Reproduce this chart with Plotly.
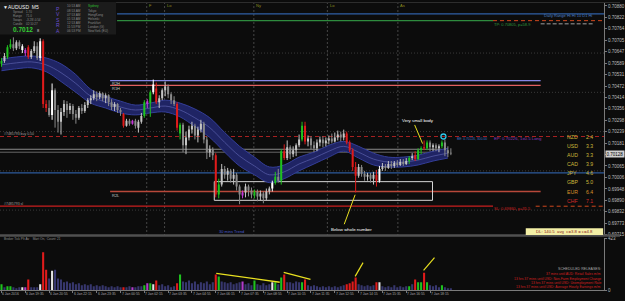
import plotly.graph_objects as go

W, H = 625, 301

# ---------------- data ----------------
opens = [0.70585,0.70600,0.70620,0.70670,0.70685,0.70665,0.70695,0.70675,0.70655,0.70670,
         0.70620,0.70650,0.70675,0.70615,0.70700,0.70380,0.70360,0.70325,0.70450,0.70350,
         0.70290,0.70340,0.70380,0.70350,0.70370,0.70330,0.70310,0.70360,0.70345,0.70375,
         0.70400,0.70410,0.70430,0.70415,0.70435,0.70410,0.70425,0.70390,0.70365,0.70380,
         0.70350,0.70330,0.70270,0.70295,0.70280,0.70295,0.70260,0.70290,0.70320,0.70380,
         0.70385,0.70440,0.70460,0.70390,0.70410,0.70450,0.70470,0.70430,0.70400,0.70380,
         0.70230,0.70275,0.70170,0.70210,0.70250,0.70270,0.70220,0.70250,0.70280,0.70200,
         0.70135,0.70150,0.70120,0.69920,0.69970,0.70050,0.70020,0.70040,0.70000,0.70020,
         0.69960,0.69915,0.69930,0.69960,0.69940,0.69915,0.69935,0.69910,0.69925,0.69900,
         0.69935,0.69950,0.69980,0.70010,0.69990,0.70140,0.70105,0.70160,0.70125,0.70145,
         0.70170,0.70200,0.70270,0.70190,0.70205,0.70170,0.70155,0.70185,0.70200,0.70180,
         0.70195,0.70205,0.70190,0.70210,0.70225,0.70210,0.70230,0.70185,0.70145,0.70060,
         0.70015,0.70060,0.70025,0.70010,0.70020,0.70000,0.70020,0.69990,0.70050,0.70065,
         0.70055,0.70075,0.70065,0.70080,0.70070,0.70085,0.70075,0.70090,0.70105,0.70120,
         0.70100,0.70145,0.70160,0.70155,0.70185,0.70160,0.70170,0.70155,0.70165,0.70185,
         0.70145,0.70130]
highs = [0.70615,0.70640,0.70680,0.70710,0.70720,0.70705,0.70705,0.70685,0.70665,0.70680,
         0.70660,0.70700,0.70695,0.70715,0.70710,0.70400,0.70400,0.70485,0.70460,0.70375,
         0.70360,0.70400,0.70395,0.70385,0.70380,0.70350,0.70370,0.70380,0.70390,0.70410,
         0.70425,0.70450,0.70445,0.70445,0.70440,0.70435,0.70430,0.70405,0.70390,0.70385,
         0.70360,0.70335,0.70305,0.70305,0.70300,0.70305,0.70300,0.70335,0.70400,0.70405,
         0.70450,0.70505,0.70490,0.70425,0.70460,0.70495,0.70480,0.70440,0.70420,0.70390,
         0.70285,0.70285,0.70240,0.70270,0.70290,0.70280,0.70265,0.70300,0.70290,0.70215,
         0.70170,0.70160,0.70130,0.70000,0.70075,0.70065,0.70055,0.70050,0.70050,0.70030,
         0.69970,0.69940,0.69975,0.69970,0.69955,0.69945,0.69945,0.69940,0.69935,0.69950,
         0.69960,0.69990,0.70035,0.70050,0.70150,0.70175,0.70195,0.70170,0.70165,0.70180,
         0.70225,0.70290,0.70290,0.70220,0.70215,0.70190,0.70200,0.70215,0.70215,0.70210,
         0.70220,0.70230,0.70235,0.70245,0.70240,0.70250,0.70240,0.70195,0.70155,0.70085,
         0.70075,0.70070,0.70040,0.70030,0.70030,0.70035,0.70045,0.70065,0.70080,0.70075,
         0.70090,0.70090,0.70090,0.70095,0.70100,0.70100,0.70105,0.70115,0.70130,0.70140,
         0.70155,0.70165,0.70195,0.70195,0.70195,0.70180,0.70180,0.70175,0.70195,0.70200,
         0.70165,0.70155]
lows = [0.70570,0.70590,0.70610,0.70660,0.70650,0.70655,0.70660,0.70640,0.70625,0.70610,
        0.70610,0.70640,0.70605,0.70600,0.70360,0.70340,0.70315,0.70300,0.70260,0.70235,
        0.70225,0.70320,0.70310,0.70330,0.70300,0.70280,0.70300,0.70330,0.70335,0.70360,
        0.70380,0.70400,0.70395,0.70405,0.70395,0.70385,0.70370,0.70350,0.70345,0.70335,
        0.70320,0.70260,0.70265,0.70270,0.70275,0.70255,0.70235,0.70280,0.70310,0.70360,
        0.70315,0.70430,0.70380,0.70360,0.70400,0.70420,0.70410,0.70380,0.70370,0.70245,
        0.70200,0.70135,0.70125,0.70195,0.70230,0.70200,0.70185,0.70235,0.70180,0.70100,
        0.70110,0.70095,0.69905,0.69900,0.69960,0.70000,0.69990,0.69980,0.69970,0.69940,
        0.69870,0.69900,0.69905,0.69910,0.69900,0.69900,0.69885,0.69890,0.69875,0.69890,
        0.69920,0.69935,0.69970,0.69980,0.69970,0.70095,0.70095,0.70100,0.70110,0.70115,
        0.70160,0.70190,0.70175,0.70165,0.70150,0.70135,0.70140,0.70165,0.70160,0.70165,
        0.70175,0.70180,0.70185,0.70195,0.70190,0.70195,0.70175,0.70135,0.70040,0.69930,
        0.70005,0.70010,0.69990,0.69990,0.69980,0.69970,0.69960,0.69980,0.70040,0.70040,
        0.70050,0.70050,0.70055,0.70060,0.70065,0.70065,0.70070,0.70075,0.70095,0.70090,
        0.70095,0.70125,0.70145,0.70145,0.70140,0.70140,0.70140,0.70135,0.70155,0.70115,
        0.70110,0.70120]
closes = [0.70600,0.70625,0.70670,0.70685,0.70665,0.70695,0.70675,0.70655,0.70640,0.70620,
          0.70650,0.70675,0.70615,0.70700,0.70380,0.70360,0.70325,0.70450,0.70350,0.70290,
          0.70340,0.70380,0.70350,0.70370,0.70330,0.70310,0.70360,0.70345,0.70375,0.70400,
          0.70410,0.70430,0.70415,0.70435,0.70410,0.70425,0.70390,0.70365,0.70380,0.70350,
          0.70340,0.70270,0.70295,0.70280,0.70295,0.70270,0.70290,0.70320,0.70390,0.70395,
          0.70440,0.70480,0.70390,0.70410,0.70450,0.70470,0.70430,0.70400,0.70380,0.70260,
          0.70275,0.70170,0.70210,0.70250,0.70270,0.70220,0.70250,0.70280,0.70200,0.70135,
          0.70150,0.70120,0.69920,0.69970,0.70050,0.70020,0.70040,0.70000,0.70020,0.69960,
          0.69920,0.69930,0.69960,0.69940,0.69920,0.69935,0.69910,0.69925,0.69900,0.69935,
          0.69950,0.69980,0.70010,0.69990,0.70140,0.70105,0.70160,0.70125,0.70145,0.70170,
          0.70200,0.70270,0.70190,0.70205,0.70170,0.70155,0.70185,0.70200,0.70180,0.70195,
          0.70205,0.70190,0.70210,0.70225,0.70210,0.70230,0.70185,0.70145,0.70060,0.70015,
          0.70060,0.70025,0.70010,0.70020,0.70000,0.70020,0.69990,0.70050,0.70065,0.70055,
          0.70075,0.70065,0.70080,0.70070,0.70085,0.70075,0.70090,0.70105,0.70115,0.70100,
          0.70145,0.70155,0.70155,0.70185,0.70160,0.70170,0.70155,0.70165,0.70185,0.70145,
          0.70130,0.70128]
# PVSRA class per bar: n normal up, m normal down, W white, G green climax, R red climax, P purple
bar_class = list("GnGGmnmWPR" "nnmWRRmWmm" "nnmnmmnmnn" "nnmnmnmmnm" "mRnmPmnnGP"
                 "GWRnnnmmmR" "Gmnnnmnnmm" "nmRGnmnmnm" "mPnmmGmnmn" "nWGmGRnmnn"
                 "nGRnmmnnmn" "nmnnmnRRRR" "nmmnmnRWnm" "nmnmnmnGnR" "GGRGmnmnGm" "mm")
volumes = [48,24,32,32,24,16,24,24,24,88,
           24,24,24,48,312,168,96,160,168,96,
           88,64,72,56,64,48,56,40,48,40,
           48,32,40,32,40,32,24,32,24,32,
           24,24,24,32,24,24,32,32,40,56,
           56,48,80,40,48,32,40,24,32,56,
           128,72,64,80,56,72,48,64,56,72,
           48,64,128,112,72,64,56,64,48,56,
           64,72,48,56,40,80,48,40,56,40,
           48,64,64,48,104,128,64,64,56,72,
           64,64,88,40,32,40,32,24,32,24,
           32,24,32,24,32,40,48,56,72,104,
           48,40,32,40,32,40,64,64,32,24,
           32,24,40,24,32,24,32,32,48,88,
           64,64,144,64,40,32,40,24,40,24,
           16,16]
ribbon_bars = [0,5,10,15,20,25,30,35,40,45,50,55,60,65,70,75,80,85,90,95,100,
               105,110,115,120,125,130,135,140,145,150]
ribbon_upper = [0.70610,0.70620,0.70625,0.70615,0.70585,0.70530,0.70455,0.70420,0.70395,0.70375,
                0.70385,0.70400,0.70385,0.70355,0.70310,0.70235,0.70165,0.70110,0.70060,0.70070,
                0.70110,0.70135,0.70170,0.70190,0.70165,0.70130,0.70110,0.70110,0.70120,0.70140,0.70155]
ribbon_mid = [0.70580,0.70590,0.70595,0.70580,0.70540,0.70485,0.70420,0.70390,0.70365,0.70350,
              0.70360,0.70370,0.70350,0.70310,0.70260,0.70185,0.70115,0.70065,0.70020,0.70035,
              0.70075,0.70105,0.70140,0.70165,0.70135,0.70100,0.70085,0.70085,0.70095,0.70115,0.70130]
ribbon_lower = [0.70550,0.70560,0.70565,0.70545,0.70495,0.70440,0.70385,0.70360,0.70335,0.70325,
                0.70335,0.70340,0.70315,0.70265,0.70210,0.70135,0.70065,0.70020,0.69980,0.70000,
                0.70040,0.70075,0.70110,0.70140,0.70105,0.70070,0.70060,0.70060,0.70070,0.70090,0.70105]
price_ticks = [0.70880,0.70822,0.70764,0.70705,0.70647,0.70589,0.70531,0.70472,0.70414,0.70356,
               0.70298,0.70239,0.70181,0.70123,0.70065,0.70006,0.69948,0.69890,0.69832,0.69773,0.69715]
time_labels = ["6 Jan 2016","6 Jan 19:35","6 Jan 20:55","6 Jan 22:15","6 Jan 23:35",
               "7 Jan 00:55","7 Jan 02:15","7 Jan 03:35","7 Jan 04:55","7 Jan 06:15",
               "7 Jan 07:35","7 Jan 08:55","7 Jan 10:15","7 Jan 11:35","7 Jan 12:55",
               "7 Jan 14:15","7 Jan 15:35","7 Jan 16:55","7 Jan 18:15"]
currencies = ["NZD","USD","AUD","CAD","JPY","GBP","EUR","CHF"]
currency_strength = [2.4,3.3,3.3,3.9,4.6,5.0,6.4,7.1]
session_bars = [48.8,54.8,84.8,109.5,133.2]
session_names = ["F","Lo","Ny","Lo","As"]
clock_times = ["10:53 AM","08:53 AM","07:53 AM","01:53 AM","12:53 AM","11:53 PM","06:53 PM"]
clock_cities = ["Sydney","Tokyo","HongKong","Helsinki","Frankfurt","London (G)","NewYork (EU)"]
releases = ["37 mins until AUD: Retail Sales m/m",
            "13 hrs 37 mins until USD: Non-Farm Employment Change",
            "13 hrs 37 mins until USD: Unemployment Rate",
            "13 hrs 37 mins until USD: Average Hourly Earnings m/m"]
vol_ticks = [0, 423]
current_price = 0.70128
level_daily_hi = 0.70840
level_tp = 0.70805
level_r2h = 0.70500
level_r1h = 0.70475
level_entry = 0.70215
level_gray1 = 0.70150
level_gray2 = 0.70135
level_whole = 0.70030
level_r2l = 0.69935
level_sl = 0.69860
box_top, box_bottom = 0.69985, 0.69890
grid_levels = [0.70640, 0.70440, 0.70240, 0.70040, 0.69840]
entry_marker_bar = 148.5

# ---------------- helpers ----------------
def px(x): return x / W
def py(y): return 1 - y / H

FONT = "Liberation Sans"
fig = go.Figure()

# moving-average ribbon
fig.add_trace(go.Scatter(x=ribbon_bars, y=ribbon_upper, mode='lines',
                         line=dict(color='#343e98', width=1, shape='spline'), hoverinfo='skip'))
fig.add_trace(go.Scatter(x=ribbon_bars, y=ribbon_lower, mode='lines', fill='tonexty',
                         fillcolor='#1f2464', line=dict(color='#343e98', width=1, shape='spline'),
                         hoverinfo='skip'))
fig.add_trace(go.Scatter(x=ribbon_bars, y=ribbon_mid, mode='lines',
                         line=dict(color='#5c62ad', width=0.7, shape='spline'), hoverinfo='skip'))

# candles (wick + body per colour class)
candle_colors = {'n': '#c4c4c4', 'm': '#8a8a8a', 'W': '#ffffff',
                 'G': '#1fc21f', 'R': '#e01b1b', 'P': '#c23ad6'}
for cls, col in candle_colors.items():
    wx, wy, bx, by = [], [], [], []
    for i, (o, h, l, c, k) in enumerate(zip(opens, highs, lows, closes, bar_class)):
        if k != cls:
            continue
        wx += [i, i, None]
        wy += [l, h, None]
        b0, b1 = min(o, c), max(o, c)
        if b1 - b0 < 0.00004:
            b1 = b0 + 0.00004
        bx += [i, i, None]
        by += [b0, b1, None]
    fig.add_trace(go.Scatter(x=wx, y=wy, mode='lines', line=dict(color=col, width=1),
                             hoverinfo='skip', connectgaps=False))
    fig.add_trace(go.Scatter(x=bx, y=by, mode='lines', line=dict(color=col, width=2),
                             hoverinfo='skip', connectgaps=False))

# entry marker
fig.add_trace(go.Scatter(x=[entry_marker_bar], y=[level_entry], mode='markers',
                         marker=dict(symbol='circle-open', size=5, color='#2ec8ea',
                                     line=dict(width=1.3)), hoverinfo='skip'))

# volume
vol_colors = {'n': '#37376e', 'm': '#37376e', 'W': '#e4e4e4',
              'G': '#1fc21f', 'R': '#e01b1b', 'P': '#b23ccc'}
fig.add_trace(go.Bar(x=list(range(len(volumes))), y=volumes, width=0.7,
                     marker=dict(color=[vol_colors[k] for k in bar_class], line=dict(width=0)),
                     xaxis='x2', yaxis='y2', hoverinfo='skip'))

# ---------------- shapes ----------------
shapes = []
def hline(level, x0, x1, color, width=1, dash='solid', layer='below'):
    shapes.append(dict(type='line', xref='paper', yref='y', x0=px(x0), x1=px(x1),
                       y0=level, y1=level, line=dict(color=color, width=width, dash=dash),
                       layer=layer))
def seg(x0, y0, x1, y1, color, width=1, dash='solid', layer='above'):
    shapes.append(dict(type='line', xref='paper', yref='paper', x0=px(x0), y0=py(y0),
                       x1=px(x1), y1=py(y1), line=dict(color=color, width=width, dash=dash),
                       layer=layer))
def rect(x0, y0, x1, y1, fill, layer='above'):
    shapes.append(dict(type='rect', xref='paper', yref='paper', x0=px(x0), y0=py(y0),
                       x1=px(x1), y1=py(y1), fillcolor=fill,
                       line=dict(width=0, color='rgba(0,0,0,0)'), layer=layer))

for g in grid_levels:
    hline(g, 0, 609, '#3a3a3a', 1, '1px,2px')
for b in session_bars:
    shapes.append(dict(type='line', xref='x', yref='paper', x0=b, x1=b, y0=py(0), y1=py(237),
                       line=dict(color='#474747', width=1, dash='2px,2px'), layer='below'))

hline(level_daily_hi, 118, 609, '#2f5fa5', 1.2)
hline(level_tp, 118, 497, '#2e8b3e', 1.2)
hline(level_tp, 497, 609, '#d0481e', 1, '4px,3px')
hline(level_r2h, 111, 545, '#8686e6', 1.2)
hline(level_r1h, 111, 545, '#e26060', 1.2)
hline(level_entry, 0, 609, '#a82222', 1, '4px,3px')
hline(level_gray1, 0, 445, '#8a8a8a', 1)
hline(level_gray2, 0, 445, '#666666', 1)
hline(level_whole, 0, 609, '#2c5a9c', 1.2)
hline(level_r2l, 111, 545, '#b8483a', 1.5)
hline(level_sl, 0, 497, '#c81e1e', 1.2)
hline(level_sl, 540, 609, '#d0481e', 1, '4px,3px')
shapes.append(dict(type='rect', xref='paper', yref='y', x0=px(216), x1=px(436),
                   y0=box_bottom, y1=box_top, line=dict(color='#d6d6d6', width=1), layer='below'))
seg(545, 22, 598, 22, '#6e6e6e', 1.5, '4px,2px')

# panel separator / frame
seg(0, 237.5, 625, 237.5, '#505050', 2.5)
seg(0, 0.5, 625, 0.5, '#2e2e2e', 1)

# info box
rect(0, 0, 117, 33, '#1b1b1b')

# annotation pointer lines
seg(418, 125, 426, 144, '#e8e020', 1)
seg(347, 226, 358, 196, '#e8e020', 1)
seg(218, 276, 282, 285, '#e8e020', 1.3)
seg(286, 275, 313, 282, '#e8e020', 1.3)
seg(358, 279, 366, 265, '#e8e020', 1.2)
seg(427, 273, 438, 260, '#e8e020', 1.2)

# DL box
rect(530, 230, 608, 237, '#f3efa6')

# ---------------- text ----------------
ann = []
def txt(s, x, y, color, size, anchor='left', bold=False, ref_x='paper', family=FONT):
    ann.append(dict(text=(f"<b>{s}</b>" if bold else s), x=(px(x) if ref_x == 'paper' else x),
                    y=py(y), xref=ref_x, yref='paper', xanchor=anchor, yanchor='middle',
                    showarrow=False, borderpad=0,
                    font=dict(size=size, color=color, family=family)))

txt("▼AUDUSD  M5", 2, 5, '#f0f0f0', 5)
for row, (lab, val) in enumerate([("Spread", "1.70"), ("Range", "71.0"),
                                  ("Swaps", "-3.28/-0.54"), ("Candle", "02:10:27")]):
    txt(lab, 12, 10.5 + 4 * row, '#8a8a8a', 3)
    txt(val, 25, 10.5 + 4 * row, '#8a8a8a', 3)
txt("0.7012", 12, 27.5, '#33cc33', 6.5, bold=True)
txt("8", 36, 28.5, '#cfcfcf', 4)
for k, ch in enumerate("PVSRA"):
    txt(ch, 58, 7 + 5.5 * k, '#6b4fd0', 5, anchor='center')
for k, (t, c) in enumerate(zip(clock_times, clock_cities)):
    yy = 4.5 + 4.2 * k
    txt(t, 67, yy, '#8a8a8a', 3.2)
    txt(c, 88, yy, '#2fbf2f' if k == 0 else '#8a8a8a', 3.2)

for b, name in zip(session_bars, session_names):
    txt(name, b + 0.4, 3.5, '#8f8f1f', 4, ref_x='x')

txt("Daily Range Hi Hi 10 D1 Hi", 598, 13.5, '#4f7fc0', 4, anchor='right')
txt("TP: 0.70805, p=58.9", 497, 22.5, '#2e9a3e', 4)
txt("R2H", 112, 82.5, '#c4c4c4', 4)
txt("R1H", 112, 88, '#c4c4c4', 4)
txt("R2L", 112, 196.5, '#c4c4c4', 4)
txt("#7485793 buy 0.50", 3, 134.5, '#a0a0a0', 3.5)
txt("#7485793 sl", 3, 205, '#a0a0a0', 3.5)
txt("Very small body", 404, 120, '#ffffff', 4.4)
txt("Below whole number", 333, 231, '#ffffff', 4.4)
txt("30 mins Trend", 220, 233, '#4a5acd', 4)
txt("BE: 0.70226, 300.00", 460, 139, '#3c6ec0', 3.3)
txt("EP: 0.70226, 1x0.5 Long", 497, 139, '#8a3cc0', 4.3)
txt("SL: 0.69860, p=35.5", 497, 210, '#d02020', 4)
for k, (cur, val) in enumerate(zip(currencies, currency_strength)):
    col = '#d42a2a' if cur == 'CHF' else ('#d8902a' if cur == 'EUR' else '#cdb83a')
    yy = 137 + 9.3 * k
    txt(cur, 571, yy, col, 5.2)
    txt(f"{val:.1f}", 590, yy, col, 5.2)
txt("DL: 140.5  avg  c=3.8 = c=4.8", 569, 233.5, '#8a1a1a', 4.3, anchor='center')

txt("Broker Tick PIt Av    Mart On,  Count: 21", 3, 241.5, '#909090', 3.2)
txt("SCHEDULED RELEASES:", 607, 272, '#a8a8a8', 3.6, anchor='right')
for k, r in enumerate(releases):
    txt(r, 607, 277 + 4.4 * k, '#d42020', 3.4, anchor='right')

label_bars = [8 * k for k in range(len(time_labels))]
for b, lab in zip(label_bars, time_labels):
    ann.append(dict(text=lab, x=b, y=py(297), xref='x2', yref='paper', xanchor='left',
                    yanchor='middle', showarrow=False, borderpad=0,
                    font=dict(size=3.4, color='#a8a8a8', family=FONT)))

# current price label on the axis
ann.append(dict(text="0.70128", x=px(609.5), y=current_price, xref='paper', yref='y',
                xanchor='left', yanchor='middle', showarrow=False, bgcolor='#d0d0d0',
                borderpad=0.5, font=dict(size=4.5, color='#000000', family=FONT)))

axis_font = dict(size=4.5, color='#bdbdbd', family=FONT)
fig.update_layout(
    width=W, height=H, margin=dict(l=0, r=0, t=0, b=0),
    paper_bgcolor='#0c0c0c', plot_bgcolor='rgba(0,0,0,0)',
    showlegend=False, barmode='overlay',
    xaxis=dict(domain=[0, px(609)], range=[-0.5, 202.5], showticklabels=False,
               showgrid=False, zeroline=False, showline=False, fixedrange=True),
    yaxis=dict(domain=[py(237), py(1)], range=[0.69713, 0.70895], side='right',
               tickvals=price_ticks, ticktext=[f"{v:.5f}" for v in price_ticks],
               showgrid=False, zeroline=False, showline=True, linecolor='#7a7a7a',
               linewidth=1, ticks='outside', ticklen=2, tickcolor='#7a7a7a',
               tickfont=axis_font, fixedrange=True),
    xaxis2=dict(domain=[0, px(609)], anchor='y2', matches='x', showticklabels=False,
                tickvals=label_bars, ticks='outside', ticklen=2, tickcolor='#7a7a7a',
                showline=True, linecolor='#7a7a7a', showgrid=False, zeroline=False,
                fixedrange=True),
    yaxis2=dict(domain=[py(293), py(240)], anchor='x2', range=[0, 430], side='right',
                tickvals=vol_ticks, ticktext=[str(v) for v in vol_ticks],
                showgrid=False, zeroline=False, showline=True, linecolor='#7a7a7a',
                ticks='outside', ticklen=2, tickcolor='#7a7a7a', tickfont=axis_font,
                fixedrange=True),
    shapes=shapes, annotations=ann,
)

fig.write_html("out.html", config={'displayModeBar': False})
